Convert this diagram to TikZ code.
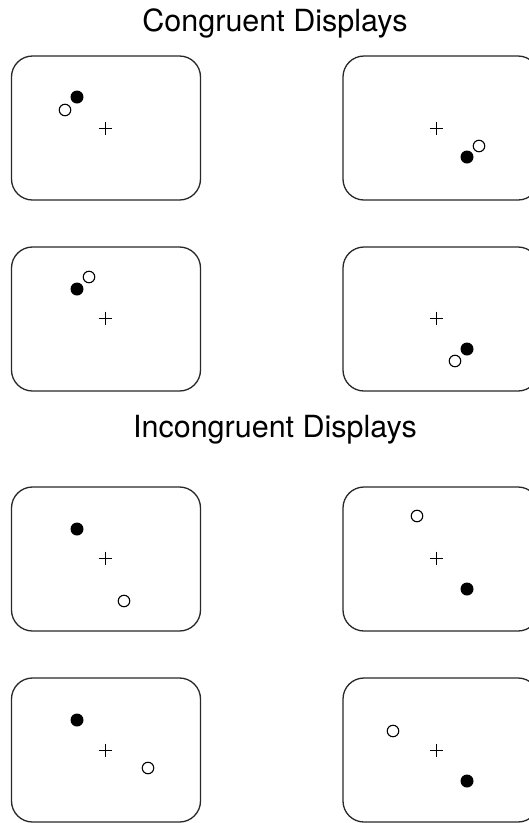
\documentclass[tikz,border=0pt]{standalone}
\usepackage{fontspec}
\setmainfont{TeX Gyre Heros}
\usetikzlibrary{calc,positioning}
\definecolor{frameColor}{RGB}{40,40,40}
\newcommand{\titlefont}{\fontsize{30.5}{34}\selectfont}
\newcommand{\fixcross}[1]{%
  \draw[fixmark] ($(#1)+(-6.5,0)$) -- ($(#1)+(6.5,0)$);
  \draw[fixmark] ($(#1)+(0,-6.5)$) -- ($(#1)+(0,6.5)$);}

\begin{document}
\begin{tikzpicture}[
        x=1pt, y=-1pt,
        screen/.style={draw=frameColor, line width=1.3pt, rounded corners=21pt, minimum width=189pt, minimum height=144pt, inner sep=0pt},
        widescreen/.style={screen, minimum width=196pt},
        target/.style={circle, fill=black, minimum size=13pt, inner sep=0pt},
        lure/.style={circle, draw=black, fill=white, line width=1.1pt, minimum size=11.5pt, inner sep=0pt},
        fixmark/.style={black, line width=0.9pt},
        heading/.style={anchor=base, font=\titlefont, inner sep=0pt}
      ]
      \useasboundingbox (0,0) rectangle (529,823);
      \clip (0,0) rectangle (529,823);

      \node[heading] (congTitle) at (275,31) {Congruent Displays};
      \node[heading] (incongTitle) at (275,437) {Incongruent Displays};

      % congruent displays
      \node[screen] (cong1) at (106,128) {};
      \node[widescreen] (cong2) at (441,128) {};
      \node[screen] (cong3) at (106,319) {};
      \node[widescreen] (cong4) at (441,319) {};
      \coordinate (cong1c) at (105,128);
      \coordinate (cong2c) at (436,128);
      \coordinate (cong3c) at (105,318);
      \coordinate (cong4c) at (436,318);
      \fixcross{cong1c}
      \fixcross{cong2c}
      \fixcross{cong3c}
      \fixcross{cong4c}
      \node[target] (cong1t) at ($(cong1c)+(-28,-31)$) {};
      \node[lure] (cong1l) at ($(cong1c)+(-40,-18)$) {};
      \node[target] (cong2t) at ($(cong2c)+(31,29)$) {};
      \node[lure] (cong2l) at ($(cong2c)+(43,18)$) {};
      \node[target] (cong3t) at ($(cong3c)+(-28,-29)$) {};
      \node[lure] (cong3l) at ($(cong3c)+(-16,-41)$) {};
      \node[target] (cong4t) at ($(cong4c)+(31,31)$) {};
      \node[lure] (cong4l) at ($(cong4c)+(19,43)$) {};

      % incongruent displays
      \node[screen] (incong1) at (106,559) {};
      \node[widescreen] (incong2) at (441,559) {};
      \node[screen] (incong3) at (106,750) {};
      \node[widescreen] (incong4) at (441,750) {};
      \coordinate (incong1c) at (105,558);
      \coordinate (incong2c) at (436,558);
      \coordinate (incong3c) at (105,750);
      \coordinate (incong4c) at (436,750);
      \fixcross{incong1c}
      \fixcross{incong2c}
      \fixcross{incong3c}
      \fixcross{incong4c}
      \node[target] (incong1t) at ($(incong1c)+(-28,-29)$) {};
      \node[lure] (incong1l) at ($(incong1c)+(19,43)$) {};
      \node[target] (incong2t) at ($(incong2c)+(31,31)$) {};
      \node[lure] (incong2l) at ($(incong2c)+(-19,-42)$) {};
      \node[target] (incong3t) at ($(incong3c)+(-28,-30)$) {};
      \node[lure] (incong3l) at ($(incong3c)+(43,18)$) {};
      \node[target] (incong4t) at ($(incong4c)+(31,31)$) {};
      \node[lure] (incong4l) at ($(incong4c)+(-43,-19)$) {};
    \end{tikzpicture}
\end{document}
